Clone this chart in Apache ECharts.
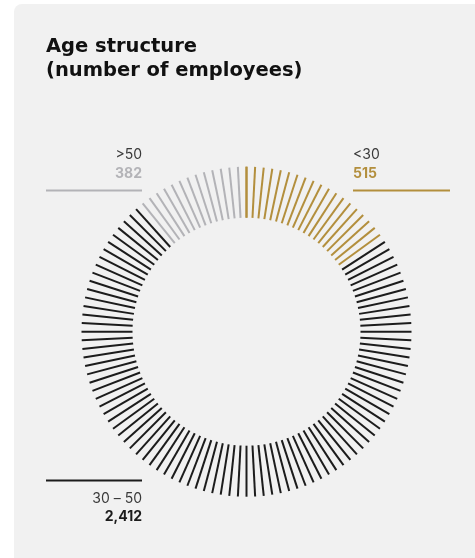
<!DOCTYPE html>
<html>
<head>
<meta charset="utf-8">
<script src="https://cdn.jsdelivr.net/npm/echarts@6/dist/echarts.min.js"></script>
<style>
  html, body { margin: 0; padding: 0; background: #ffffff; }
  #chart { width: 475px; height: 558px; }
</style>
</head>
<body>
<div id="chart"></div>
<script>
// ---- data ----
const titleLines = ['Age structure', '(number of employees)'];
const categories = ['<30', '30 – 50', '>50'];
const values = [515, 2412, 382];
const valueLabels = ['515', '2,412', '382'];
const colors = ['#b38f3d', '#1c1c1c', '#b3b3b7'];
const TICKS = 120;

// ---- build ----
const total = values.reduce((a, b) => a + b, 0);
const stops = [];
let cum = 0;
values.forEach((v, i) => {
  cum += v;
  let s = cum / total;
  if (i === values.length - 1) s = 1 - 0.5 / TICKS;
  stops.push([s, colors[i]]);
});
// closing tick coincides with the first one: keep the first colour
stops.push([1, colors[0]]);

const font = 'Inter, "Noto Sans", sans-serif';
const titleFont = 'bold 19.5px "DejaVu Sans", sans-serif';
const chart = echarts.init(document.getElementById('chart'), null, { renderer: 'canvas' });

function label(x, y, text, align, color, weight) {
  return {
    type: 'text', x: x, y: y, z: 10,
    style: {
      text: text, fill: color, font: weight + ' 14px ' + font,
      textAlign: align, textVerticalAlign: 'middle'
    }
  };
}
function rule(x1, x2, y, color) {
  return {
    type: 'line', z: 10,
    shape: { x1: x1, y1: y, x2: x2, y2: y },
    style: { stroke: color, lineWidth: 2 }
  };
}

chart.setOption({
  backgroundColor: '#ffffff',
  animation: false,
  graphic: [
    { type: 'rect', z: 0, shape: { x: 14, y: 4, width: 470, height: 560, r: [8, 0, 0, 0] }, style: { fill: '#f1f1f1' } },
    { type: 'text', x: 46, y: 57, z: 10, style: { text: titleLines[0], fill: '#111', font: titleFont, textVerticalAlign: 'bottom' } },
    { type: 'text', x: 46, y: 81, z: 10, style: { text: titleLines[1], fill: '#111', font: titleFont, textVerticalAlign: 'bottom' } },
    // >50 (top-left)
    label(142, 155, categories[2], 'right', '#3a3a3a', 'normal'),
    label(142, 174, valueLabels[2], 'right', colors[2], 'bold'),
    rule(46, 142, 190.5, colors[2]),
    // <30 (top-right)
    label(353, 155, categories[0], 'left', '#3a3a3a', 'normal'),
    label(353, 174, valueLabels[0], 'left', colors[0], 'bold'),
    rule(353, 450, 190.5, colors[0]),
    // 30 – 50 (bottom-left)
    rule(46, 142, 480.5, colors[1]),
    label(142, 499, categories[1], 'right', '#3a3a3a', 'normal'),
    label(142, 517, valueLabels[1], 'right', colors[1], 'bold')
  ],
  series: [{
    type: 'gauge',
    center: [246.5, 331.7],
    radius: 165,
    startAngle: 90,
    endAngle: -270,
    clockwise: true,
    min: 0,
    max: total,
    splitNumber: TICKS,
    axisLine: { show: false, lineStyle: { width: 0, color: stops } },
    splitLine: { show: true, length: 51, distance: 0, lineStyle: { color: 'auto', width: 2 } },
    axisTick: { show: false },
    axisLabel: { show: false },
    pointer: { show: false },
    anchor: { show: false },
    progress: { show: false },
    title: { show: false },
    detail: { show: false },
    data: []
  }]
});
</script>
</body>
</html>
